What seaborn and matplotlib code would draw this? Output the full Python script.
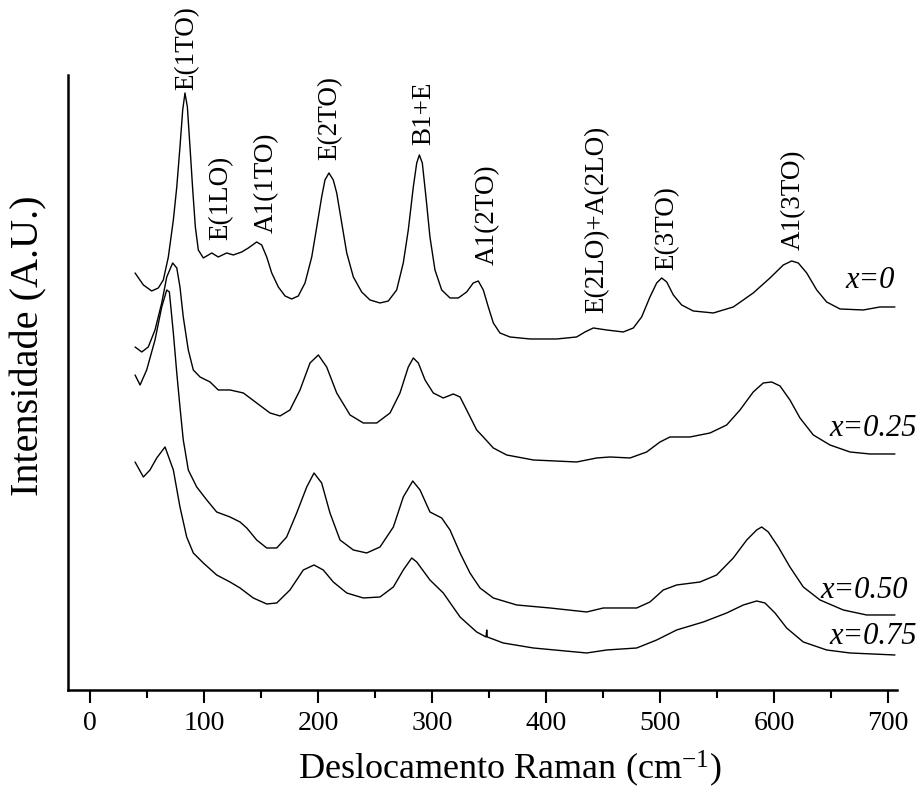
import matplotlib
matplotlib.use("Agg")
import matplotlib.pyplot as plt
from matplotlib.ticker import MultipleLocator
import pandas as pd
import seaborn as sns

# ---------------- data ----------------
samples = ["x=0", "x=0.25", "x=0.50", "x=0.75"]

wn_x0 = [39.5, 46.8, 54.1, 59.9, 64.3, 68.7, 73.1, 76.1, 78.9, 81.3, 83.3, 85.4, 87.7, 90.1, 92.4,
         95.0, 99.4, 106.8, 112.5, 119.9, 125.7, 133.1, 138.9, 146.2, 150.6, 155.0, 159.4, 165.2, 171.1,
         176.9, 182.7, 188.6, 194.5, 198.9, 203.2, 206.1, 209.6, 213.4, 216.4, 220.8, 225.2, 231.0, 238.3,
         245.6, 254.4, 261.7, 269.0, 274.8, 279.2, 283.6, 286.6, 288.9, 291.5, 294.7, 298.2, 302.6, 308.5,
         315.8, 323.1, 330.4, 336.2, 340.6, 345.0, 349.4, 353.8, 359.6, 368.4, 386.0, 409.4, 426.9, 434.2,
         441.5, 453.2, 467.8, 476.6, 483.9, 491.2, 497.1, 501.5, 505.9, 511.7, 519.0, 529.2, 546.8, 564.3,
         581.8, 596.5, 608.2, 615.5, 621.3, 628.7, 637.5, 646.2, 657.9, 678.3, 693.0, 706.1]
int_x0 = [417, 405, 399, 402, 410, 433, 470, 503, 543, 580, 597, 583, 543, 500, 463,
          440, 432, 437, 433, 437, 435, 438, 442, 448, 445, 433, 417, 403, 394,
          391, 394, 407, 433, 463, 493, 510, 517, 510, 497, 467, 437, 413, 398,
          390, 387, 389, 400, 427, 460, 503, 527, 535, 527, 493, 453, 420, 400,
          392, 392, 398, 407, 409, 400, 383, 367, 357, 353, 351, 351, 353, 358,
          362, 360, 358, 362, 373, 393, 407, 412, 408, 395, 385, 379, 377, 383,
          397, 412, 425, 429, 427, 417, 400, 388, 381, 380, 383, 383]

wn_x025 = [39.5, 45.4, 51.1, 57.0, 62.9, 67.3, 72.5, 76.1, 78.9, 81.8, 86.2, 90.6, 96.5, 105.3, 112.5,
           122.8, 134.5, 146.2, 157.9, 166.7, 175.4, 184.2, 193.0, 200.3, 207.6, 216.4, 228.1, 239.7, 251.5,
           263.2, 271.9, 279.2, 283.6, 288.0, 293.9, 301.1, 309.9, 318.7, 324.6, 330.4, 339.2, 345.0, 353.8,
           365.5, 388.9, 426.9, 444.5, 456.1, 473.7, 488.3, 500.0, 508.8, 526.3, 543.9, 558.5, 570.2, 581.8,
           590.6, 598.0, 605.3, 614.0, 622.8, 634.5, 649.1, 666.7, 684.2, 706.1]
int_x025 = [343, 338, 343, 360, 387, 413, 427, 422, 403, 373, 340, 320, 313, 308, 300,
            300, 297, 287, 277, 274, 280, 300, 327, 335, 323, 297, 275, 267, 267,
            277, 297, 323, 332, 327, 310, 297, 292, 296, 293, 280, 260, 253, 242,
            235, 230, 228, 232, 233, 232, 238, 248, 253, 253, 257, 265, 280, 298,
            307, 308, 304, 290, 272, 255, 245, 238, 236, 236]

wn_x050 = [39.5, 43.9, 49.7, 57.0, 62.9, 67.3, 69.6, 73.1, 76.1, 78.9, 81.8, 83.3, 86.2, 93.6, 102.4,
           111.1, 122.8, 131.6, 137.5, 146.2, 155.0, 163.8, 172.5, 181.3, 190.1, 196.5, 203.2, 210.5, 219.3,
           231.0, 242.7, 254.4, 266.1, 274.8, 283.1, 289.5, 298.2, 308.5, 315.8, 324.6, 333.3, 342.1, 353.8,
           374.3, 403.5, 435.7, 450.3, 479.6, 491.2, 502.9, 514.6, 535.1, 549.7, 564.3, 576.1, 584.8, 589.2,
           595.0, 603.8, 614.0, 625.7, 640.4, 660.8, 681.3, 706.1]
int_x050 = [315, 305, 320, 350, 383, 400, 398, 357, 317, 283, 250, 240, 220, 203, 190,
            178, 173, 168, 162, 150, 142, 142, 153, 177, 203, 217, 207, 177, 150,
            140, 137, 143, 163, 193, 209, 200, 178, 172, 160, 137, 117, 102, 92,
            85, 82, 78, 82, 82, 88, 100, 105, 108, 115, 132, 150, 160, 163,
            158, 143, 123, 103, 90, 80, 75, 75]

wn_x075 = [39.5, 46.8, 52.6, 58.5, 65.8, 73.1, 78.9, 84.8, 90.6, 99.4, 111.1, 122.8, 131.6, 143.2, 155.0,
           163.8, 175.4, 187.1, 196.5, 204.6, 213.4, 225.2, 239.7, 254.4, 266.1, 274.8, 282.2, 286.6, 298.2,
           309.9, 324.6, 330.4, 339.2, 347.4, 348.0, 348.5, 362.5, 388.9, 435.7, 453.2, 479.6, 497.1, 514.6,
           538.0, 558.5, 573.1, 584.8, 592.1, 600.9, 611.1, 625.7, 646.2, 666.7, 706.1]
int_x075 = [228, 213, 220, 232, 243, 220, 183, 153, 137, 127, 115, 108, 102, 92, 86,
            87, 100, 120, 125, 120, 108, 97, 92, 93, 103, 120, 132, 128, 110,
            97, 73, 67, 58, 53, 60, 53, 47, 42, 37, 40, 42, 50, 60,
            68, 77, 85, 89, 87, 77, 62, 48, 40, 37, 35]

peak_labels = ["E(1TO)", "E(1LO)", "A1(1TO)", "E(2TO)", "B1+E", "A1(2TO)",
               "E(2LO)+A(2LO)", "E(3TO)", "A1(3TO)"]
xticks = [0, 100, 200, 300, 400, 500, 600, 700]

# ---------------- layout (not data) ----------------
peak_label_x = [85.1, 114.9, 154.4, 210.5, 293.0, 348.7, 444.7, 506.0, 616.7]
peak_label_y = [600, 450, 457, 530, 545, 425, 377, 420, 440]
sample_label_x = [706.1, 725.4, 717.5, 725.4]
sample_label_y = [409, 261, 99, 53]

series = [wn_x0, wn_x025, wn_x050, wn_x075]
values = [int_x0, int_x025, int_x050, int_x075]
df = pd.concat([pd.DataFrame({"wn": w, "I": v, "sample": s})
                for w, v, s in zip(series, values, samples)], ignore_index=True)

sns.set_theme(style="white")
plt.rcParams["font.family"] = ["Liberation Serif", "DejaVu Serif"]
plt.rcParams["mathtext.fontset"] = "custom"
plt.rcParams["mathtext.rm"] = "Liberation Serif"
plt.rcParams["mathtext.it"] = "Liberation Serif:italic"

fig = plt.figure(figsize=(9.18, 7.9), dpi=100)
ax = fig.add_axes([0.0741, 0.1266, 0.903, 0.7785])

sns.lineplot(data=df, x="wn", y="I", hue="sample", palette=["black"] * 4,
             estimator=None, sort=False, legend=False, linewidth=1.0, ax=ax)

ax.set_xlim(-19.3, 707.9)
ax.set_ylim(0, 615)

for sp in ["top", "right"]:
    ax.spines[sp].set_visible(False)
for sp in ["left", "bottom"]:
    ax.spines[sp].set_color("black")
    ax.spines[sp].set_linewidth(1.8)

ax.set_xticks(xticks)
ax.set_xticklabels([str(t) for t in xticks])
ax.xaxis.set_minor_locator(MultipleLocator(50))
ax.tick_params(axis="x", which="major", direction="out", length=9, width=1.5,
               color="black", labelsize=20, pad=6, bottom=True, labelcolor="black")
ax.tick_params(axis="x", which="minor", direction="out", length=5.5, width=1.5,
               color="black", bottom=True)
ax.tick_params(axis="y", left=False, labelleft=False)

ax.set_xlabel(r"Deslocamento Raman (cm$^{\mathregular{-1}}$)", fontsize=26, color="black")
ax.xaxis.set_label_coords(0.533, -0.095)
ax.set_ylabel("Intensidade (A.U.)", fontsize=29, color="black")
ax.yaxis.set_label_coords(-0.025, 0.559)

for lab, lx, ly in zip(peak_labels, peak_label_x, peak_label_y):
    ax.text(lx, ly, lab, rotation=90, ha="center", va="bottom", fontsize=19.5,
            color="black", clip_on=False)

for lab, lx, ly in zip(samples, sample_label_x, sample_label_y):
    ax.text(lx, ly, lab, ha="right", va="center", fontsize=22, style="italic",
            color="black", clip_on=False)

fig.savefig("out.png", dpi=100)
